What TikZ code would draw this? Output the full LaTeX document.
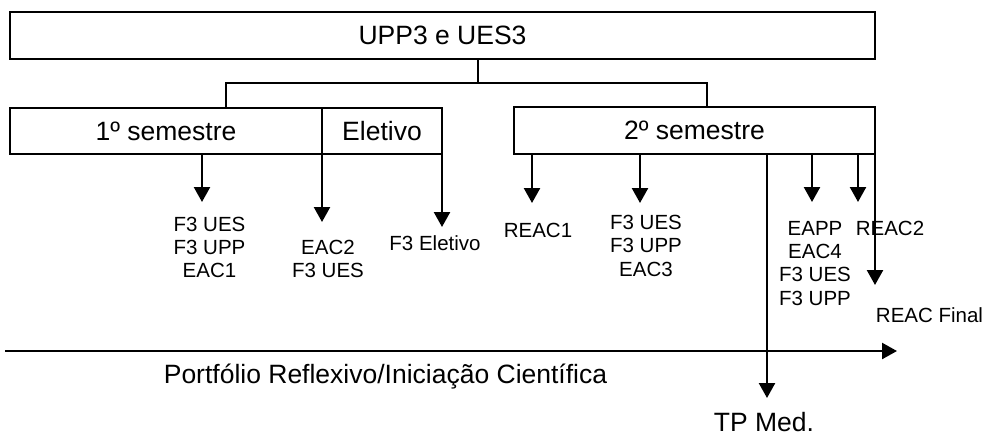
\documentclass[tikz,border=0pt]{standalone}
\usepackage{fontspec}
\setmainfont{Liberation Sans}
\usetikzlibrary{arrows.meta, positioning}
\tikzset{
    box/.style={draw, line width=1.3pt, inner sep=0pt, font=\fontsize{26.5}{30}\selectfont},
    link/.style={line width=1.3pt},
    lbl/.style={align=center, inner sep=0pt, anchor=base, font=\fontsize{20.5}{23.3}\selectfont},
    big/.style={inner sep=0pt, anchor=base, font=\fontsize{26.5}{30}\selectfont},
    arr/.style={line width=2.4pt, -{Triangle[width=16pt,length=15pt]}},
}
\begin{document}
\begin{tikzpicture}[x=1pt, y=-1pt]
    \useasboundingbox (0,0) rectangle (993,437);

    % boxes
    \node[box, minimum width=865pt, minimum height=47pt] (upp) at (442.5,35.5) {UPP3 e UES3};
    \node[box, minimum width=312pt, minimum height=46pt] (sem1) at (166,131) {1º semestre};
    \node[box, minimum width=120pt, minimum height=46pt] (elet) at (382,131) {Eletivo};
    \node[box, minimum width=361pt, minimum height=47pt] (sem2) at (694.5,130.5) {2º semestre};

    % tree
    \coordinate (root) at (478,83);
    \coordinate (fork1) at (226,83);
    \coordinate (fork2) at (707,83);
    \draw[link] (upp.south -| root) -- (root);
    \draw[link] (sem1.north -| fork1) |- (fork2) -- (sem2.north -| fork2);

    % labels (base = last line)
    \node[lbl] (l1) at (209.5,277.7) {F3 UES\\F3 UPP\\EAC1};
    \node[lbl] (l2) at (328,277.7) {EAC2\\F3 UES};
    \node[lbl] (l3) at (435,250) {F3 Eletivo};
    \node[lbl] (r1) at (538,237) {REAC1};
    \node[lbl] (r2) at (646,276) {F3 UES\\F3 UPP\\EAC3};
    \node[lbl] (r3) at (815,305) {EAPP\\EAC4\\F3 UES\\F3 UPP};
    \node[lbl] (r4) at (890,235) {REAC2};
    \node[lbl] (r5) at (929.5,322) {REAC Final};
    \node[big] (port) at (385.5,383) {Portfólio Reflexivo/Iniciação Científica};
    \node[big] (tpm) at (764,431) {TP Med.};

    % arrows
    \coordinate (t1) at (202,202);
    \coordinate (t2) at (322,222);
    \coordinate (t3) at (442,227);
    \coordinate (u1) at (532,203);
    \coordinate (u2) at (640,203);
    \coordinate (u3) at (767,398);
    \coordinate (u4) at (812,202);
    \coordinate (u5) at (858,202);
    \coordinate (u6) at (875,285);
    \draw[arr] (sem1.south -| t1) -- (t1);
    \draw[arr] (sem1.south -| t2) -- (t2);
    \draw[arr] (elet.south -| t3) -- (t3);
    \foreach \u in {u1,u2,u3,u4,u5,u6}
        \draw[arr] (sem2.south -| \u) -- (\u);

    % timeline
    \coordinate (pstart) at (5,351);
    \coordinate (pend) at (897,351);
    \draw[arr] (pstart) -- (pend);
\end{tikzpicture}
\end{document}
